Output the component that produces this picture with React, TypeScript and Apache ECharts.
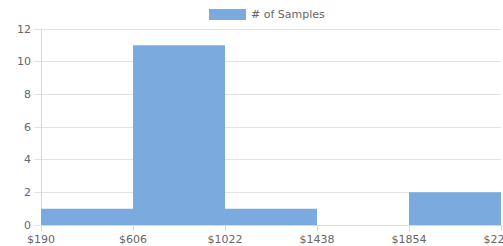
import React, { useEffect, useRef } from "react";
import * as echarts from "echarts";

const binStarts = [190, 606, 1022, 1438, 1854];
const binEnds = [606, 1022, 1438, 1854, 2270];
const sampleCounts = [1, 11, 1, 0, 2];
const seriesName = "# of Samples";
const yTicks = [0, 2, 4, 6, 8, 10, 12];

export default function App() {
  const ref = useRef<HTMLDivElement>(null);
  useEffect(() => {
    document.body.style.margin = "0";
    const chart = echarts.init(ref.current!, null, { renderer: "svg" });
    const data = binStarts.map((s, i) => [s, binEnds[i], sampleCounts[i]]);
    const font = "DejaVu Sans";
    chart.setOption({
      animation: false,
      legend: {
        top: 4,
        left: 204,
        itemWidth: 37,
        itemHeight: 11,
        itemGap: 6,
        textStyle: { color: "#666", fontSize: 11, fontFamily: font },
        data: [{ name: seriesName, icon: "rect" }],
      },
      grid: { left: 41, right: 2, top: 29, bottom: 21, outerBoundsMode: "none", containLabel: false },
      xAxis: {
        type: "value",
        min: binStarts[0],
        max: binEnds[binEnds.length - 1],
        interval: 416,
        axisLine: { show: true, lineStyle: { color: "#d9d9d9" } },
        axisTick: { show: true, length: 6, lineStyle: { color: "#d9d9d9" } },
        splitLine: { show: false },
        axisLabel: {
          color: "#666",
          fontSize: 11,
          fontFamily: font,
          margin: 9,
          hideOverlap: false,
          formatter: (v: number) => "$" + v,
        },
      },
      yAxis: {
        type: "value",
        min: yTicks[0],
        max: yTicks[yTicks.length - 1],
        interval: 2,
        axisLine: { show: true, lineStyle: { color: "#d9d9d9" } },
        axisTick: { show: true, length: 7, lineStyle: { color: "#e3e3e3" } },
        splitLine: { show: true, lineStyle: { color: "#e3e3e3" } },
        axisLabel: { color: "#666", fontSize: 11, fontFamily: font, margin: 10 },
      },
      series: [
        {
          name: seriesName,
          type: "custom",
          itemStyle: { color: "#7baade" },
          encode: { x: [0, 1], y: 2 },
          data,
          renderItem: (params: any, api: any) => {
            const p0 = api.coord([api.value(0), api.value(2)]);
            const p1 = api.coord([api.value(1), 0]);
            return {
              type: "rect",
              shape: { x: p0[0], y: p0[1], width: p1[0] - p0[0], height: p1[1] - p0[1] },
              style: { fill: "#7baade" },
            };
          },
        },
      ],
    });
    return () => chart.dispose();
  }, []);
  return <div ref={ref} style={{ width: 503, height: 246 }} />;
}
